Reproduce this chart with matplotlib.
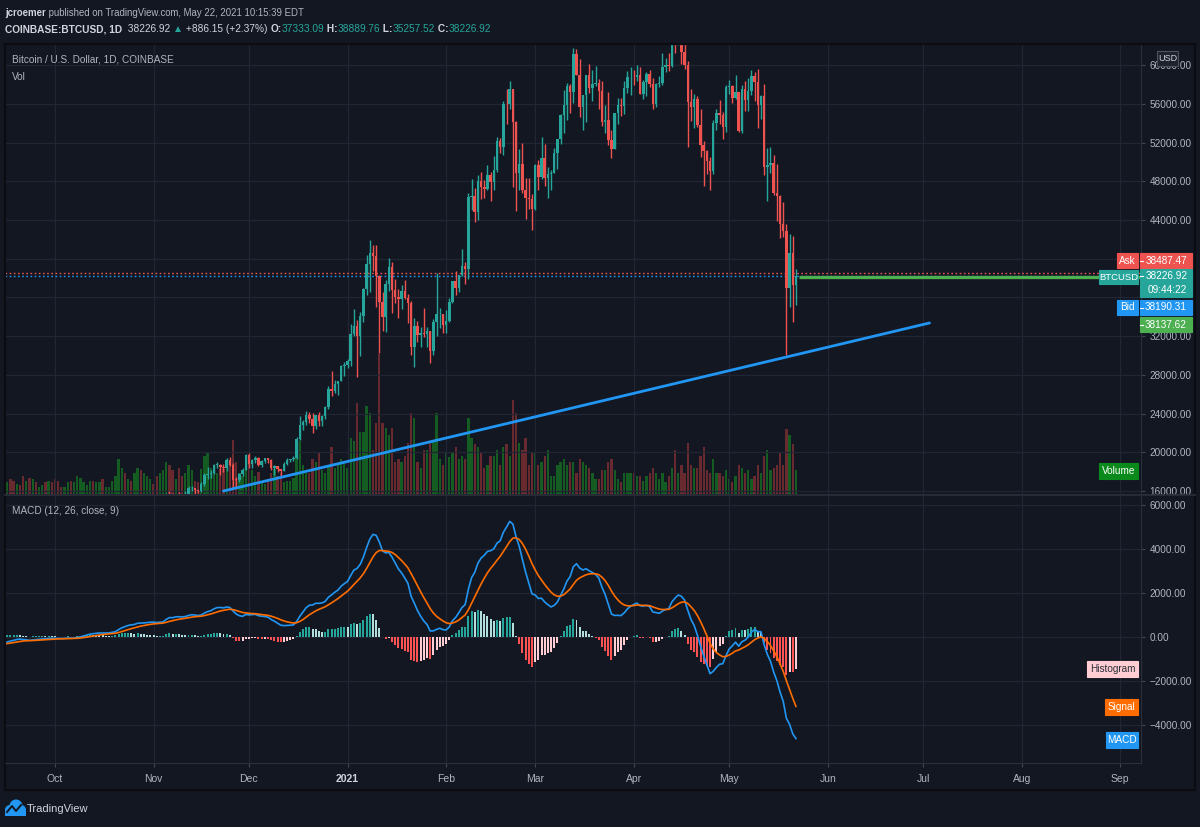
import numpy as np
import pandas as pd
import matplotlib
matplotlib.use('Agg')
import matplotlib.pyplot as plt
import matplotlib.dates as mdates
from matplotlib.patches import Rectangle, Circle
from matplotlib import font_manager as fm

# pick a narrow font if one is there (TradingView text is narrow)
_names = {f.name for f in fm.fontManager.ttflist}
FONT = next((n for n in ['Liberation Sans Narrow', 'DejaVu Sans Condensed', 'Liberation Sans']
             if n in _names), 'DejaVu Sans')
plt.rcParams['font.family'] = [FONT, 'DejaVu Sans']

# ---- data: COINBASE:BTCUSD daily, closes from 2020-08-01 to 2021-05-22 ----
close = [
    # Aug 2020
    11800, 11070, 11230, 11190, 11740, 11770, 11600, 11750, 11680, 11880, 11400, 11580, 11780, 11770, 11860, 11910,
    12290, 11960, 11750, 11860, 11520, 11680, 11650, 11760, 11340, 11470, 11320, 11540, 11480, 11710, 11650,
    # Sep
    11920, 11400, 10170, 10470, 10170, 10250, 10370, 10130, 10230, 10340, 10390, 10440, 10330, 10680, 10790,
    10950, 10940, 10930, 11080, 10920, 10420, 10540, 10240, 10740, 10690, 10730, 10780, 10700, 10840, 10780,
    # Oct
    10620, 10570, 10550, 10670, 10790, 10600, 10670, 10920, 11060, 11300, 11380, 11540, 11430, 11430, 11500, 11330,
    11370, 11510, 11750, 11920, 12820, 12990, 12940, 13130, 13030, 13070, 13650, 13280, 13460, 13560, 13800,
    # Nov
    13760, 13560, 14030, 14160, 15590, 15580, 14840, 15480, 15330, 15310, 15700, 16290, 16330, 16070, 15960,
    16720, 17660, 17800, 17820, 18680, 18710, 18430, 18370, 19160, 18730, 17160, 17140, 17720, 18180, 19700,
    # Dec
    18790, 19230, 19450, 18700, 19150, 19360, 19170, 18330, 18550, 18260, 18040, 18810, 19170, 19270, 19440, 21370,
    22840, 23130, 23860, 23480, 22740, 23830, 23240, 23730, 24700, 26490, 26280, 27040, 27370, 28890, 28980,
    # Jan 2021
    29400, 32200, 33000, 32030, 34030, 36820, 39450, 40600, 40250, 38240, 35550, 34000, 37400, 39150, 36770, 36020,
    35800, 36630, 35920, 35470, 30850, 33010, 32090, 32280, 32260, 32510, 30430, 33470, 34260, 34290, 33110,
    # Feb
    33520, 35520, 37660, 36950, 38290, 39260, 38900, 46400, 46510, 44840, 47990, 47390, 47180, 48600,
    47940, 49200, 52150, 51580, 55960, 55930, 57490, 54110, 48880, 49740, 47060, 46320, 46190, 45140,
    # Mar
    49630, 48440, 50370, 48380, 48760, 48880, 50970, 52390, 54880, 55850, 57800, 57230, 61190, 59000, 55640, 56930,
    58930, 57640, 58030, 58100, 57350, 54100, 54340, 52300, 51300, 55040, 55870, 55780, 57630, 58760, 58800,
    # Apr
    58740, 58970, 57060, 58210, 59130, 58020, 56000, 58090, 58120, 59770, 59980, 59860, 63580, 62960, 63200,
    61390, 60030, 56220, 55720, 56470, 53820, 51700, 51140, 50100, 49080, 54040, 55030, 54840, 53560, 57720,
    # May
    57830, 56620, 57200, 53240, 57510, 56400, 57360, 58900, 58240, 55840, 56760, 49500, 49690, 49930, 46760,
    46450, 43540, 42900, 36990, 40620, 37333.09, 38226.92,
]

# highs / lows for the candles that reach the visible price range (2020-11-05 .. 2021-05-22)
high = [
    15750, 15970, 15770, 15650, 15850, 15480, 15970, 16480, 16480, 16330, 16140, 16880, 17850, 18480, 18130,
    18810, 18960, 18750, 18770, 19420, 19490, 18920, 17460, 17880, 18350, 19870,
    19920, 19340, 19580, 19510, 19180, 19420, 19420, 19290, 18640, 18570, 18290, 18950, 19400, 19350, 19570, 21560,
    23770, 23290, 24300, 24170, 24100, 23860, 24150, 23800, 24800, 26870, 28420, 27500, 27410, 29020, 29300,
    29680, 33300, 34800, 33660, 34500, 36950, 40400, 41950, 41400, 41400, 38270, 36600, 37850, 40100, 39700, 37900,
    36850, 37300, 37850, 36400, 35600, 33850, 33600, 32970, 34880, 32930, 32570, 33780, 38500, 34880, 34330,
    34700, 35900, 37700, 38700, 38300, 40950, 39700, 46800, 48200, 47350, 48680, 48980, 48150, 49700,
    49000, 50600, 52620, 52500, 56300, 57500, 58350, 57530, 54200, 51350, 52000, 48370, 48380, 46640,
    49790, 50200, 52600, 51800, 49500, 49200, 51450, 52400, 54900, 57390, 58100, 58000, 61800, 61700, 60600, 56950,
    58980, 60100, 59450, 59900, 58600, 58400, 55850, 57200, 53250, 55100, 56600, 56550, 58400, 59400, 59800,
    59480, 60050, 59800, 58500, 59250, 59500, 58650, 58200, 58900, 61300, 60700, 61250, 63800, 64900, 63850,
    63600, 62600, 60400, 57550, 57000, 56800, 55500, 52150, 51200, 50550, 54350, 55500, 56400, 55200, 57950,
    58450, 57980, 58970, 57200, 57950, 58360, 58650, 59500, 59250, 59600, 56880, 58000, 51400, 51550, 50700,
    49800, 46600, 45850, 43600, 42600, 42300, 38889.76,
]
low = [
    14100, 15200, 14350, 14700, 14810, 15100, 15280, 15430, 15970, 15710, 15800, 15870, 16550, 17220, 17350,
    17740, 18360, 17620, 18000, 18040, 18570, 16200, 16460, 16880, 17520, 18170,
    18330, 18360, 18930, 18600, 18520, 18930, 18910, 18200, 17640, 17930, 17570, 18020, 18720, 19000, 19050, 19290,
    21230, 22350, 22800, 23070, 22000, 22380, 22700, 22700, 23440, 24500, 25850, 26100, 25900, 27320, 27850,
    28690, 28950, 32000, 27730, 29950, 33440, 36300, 36600, 38760, 35000, 30300, 32500, 32400, 36700, 34400, 35380,
    33850, 34850, 35800, 33400, 30050, 28800, 31420, 30900, 31920, 30840, 29240, 30000, 31990, 32830, 32300,
    32300, 33450, 35380, 36200, 36600, 38250, 37400, 37950, 45000, 43750, 43980, 46200, 46300, 47050,
    45950, 47050, 48950, 50900, 50750, 53900, 55500, 47400, 44950, 47100, 46750, 44150, 45100, 43000,
    45000, 47100, 48200, 47500, 46300, 47100, 48880, 49300, 51850, 53000, 54300, 55000, 56100, 58980, 54600, 53300,
    54150, 57100, 56300, 57800, 55500, 53700, 53000, 51700, 50400, 51300, 53950, 54700, 54900, 57100, 56900,
    57950, 58400, 57000, 56500, 56800, 57700, 55500, 55700, 57700, 57950, 59300, 59400, 59800, 61300, 62100,
    60100, 59600, 51500, 54200, 53500, 53600, 50500, 47500, 48800, 47100, 48800, 53300, 53900, 52400, 53100,
    57050, 56050, 56500, 53050, 52950, 55250, 55300, 56900, 56300, 53500, 54400, 48600, 46000, 48900, 46600,
    43900, 42100, 42200, 30000, 35000, 33500, 35257.52,
]

# daily volume (thousand BTC), 2020-09-15 .. 2021-05-22
volume = [
    9, 8, 10, 9, 7, 6, 12, 9, 11, 10, 8, 5, 6, 8, 9, 8,
    10, 9, 5, 5, 8, 9, 8, 12, 11, 8, 6, 9, 9, 8, 8, 10, 5, 5, 9, 12, 24, 18, 14, 10, 9, 14, 18, 16, 14, 12, 10,
    7, 12, 14, 16, 22, 20, 16, 10, 18, 12, 14, 20, 16, 9, 8, 17, 26, 28, 18, 16, 14, 17, 17, 24, 22, 37, 22, 14, 12, 20,
    26, 16, 12, 15, 9, 7, 10, 14, 17, 12, 14, 8, 9, 9, 11, 28, 36, 20, 14, 14, 24, 22, 28, 16, 14, 20, 32, 18, 20, 24, 22,
    18, 38, 36, 62, 42, 42, 60, 55, 30, 48, 95, 48, 45, 40, 45, 22, 24, 22, 26, 35, 55, 52, 22, 18, 30, 30, 36, 36, 55, 24, 20,
    28, 25, 28, 32, 24, 26, 24, 52, 38, 34, 32, 28, 18, 20, 26, 26, 30, 20, 32, 34, 26, 64, 55, 35, 30, 38, 20, 28,
    28, 20, 22, 26, 30, 12, 12, 20, 22, 24, 20, 22, 22, 14, 24, 22, 20, 18, 14, 10, 10, 16, 16, 22, 24, 16, 10, 8, 14, 14, 14,
    14, 12, 12, 9, 12, 14, 18, 14, 10, 14, 8, 12, 18, 30, 14, 20, 14, 35, 20, 18, 18, 26, 32, 16, 14, 24, 14, 14, 12, 16,
    10, 8, 12, 20, 18, 14, 16, 10, 12, 20, 14, 26, 30, 16, 18, 20, 28, 20, 44, 40, 34, 16,
]

ask, bid, last_line = 38487.47, 38190.31, 38137.62
trend_dates = ['2020-11-23', '2021-07-03']
trend_prices = [16000, 33360]
month_labels = ['Oct', 'Nov', 'Dec', '2021', 'Feb', 'Mar', 'Apr', 'May', 'Jun', 'Jul', 'Aug', 'Sep']
month_dates = pd.date_range('2020-10-01', periods=12, freq='MS')
hidden_ticks = [36000, 40000]   # price labels hidden under the Ask / Bid tags

# ---- colours ----
BG = '#131722'
GRID = '#222632'
TXT = '#b2b5be'
UP, DN = '#26a69a', '#ef5350'
VUP, VDN = '#145c22', '#692a2f'

dates = pd.date_range('2020-08-01', periods=len(close), freq='D')
x = mdates.date2num(dates)
close = np.array(close, dtype=float)
opens = np.r_[close[0], close[:-1]]

# MACD (12, 26, close, 9)
cs = pd.Series(close)
macd = cs.ewm(span=12, adjust=False).mean() - cs.ewm(span=26, adjust=False).mean()
signal = macd.ewm(span=9, adjust=False).mean()
hist = (macd - signal).values
prev = np.r_[hist[0], hist[:-1]]
hcol = np.where(hist >= 0, np.where(hist > prev, '#26a69a', '#b2dfdb'),
                np.where(hist > prev, '#ffcdd2', '#ff5252'))

W, H = 1200, 827
fig = plt.figure(figsize=(W / 100, H / 100), dpi=100, facecolor=BG)


def rect(x0, y0, x1, y1):
    return [x0 / W, 1 - y1 / H, (x1 - x0) / W, (y1 - y0) / H]


x0ref = mdates.date2num(pd.Timestamp('2020-10-01'))
xl = (x0ref - 15.7, x0ref + 341.5)

# volume axes behind price axes
vax = fig.add_axes(rect(5, 44, 1141, 494), zorder=1)
ax = fig.add_axes(rect(5, 44, 1141, 494), zorder=2)
mx = fig.add_axes(rect(5, 496, 1141, 763), zorder=2)
for a in (ax, mx):
    a.set_facecolor('none')
    for s in a.spines.values():
        s.set_visible(False)
    a.spines['right'].set_visible(True)
    a.spines['right'].set_color('#2a2e39')

vn = len(volume)
vx_ = x[-vn:]
vup = close[-vn:] >= opens[-vn:]
vax.bar(vx_, volume, width=0.72, color=np.where(vup, VUP, VDN), linewidth=0)
vax.set_xlim(*xl)
vax.set_ylim(0, 306)
vax.axis('off')

# candles
n = len(high)
cx, o, c = x[-n:], opens[-n:], close[-n:]
h = np.maximum(np.array(high), np.maximum(o, c))
l = np.minimum(np.array(low), np.minimum(o, c))
ccol = np.where(c >= o, UP, DN)
ax.vlines(cx, l, h, colors=ccol, lw=1, zorder=3)
ax.bar(cx, np.maximum(np.abs(c - o), 60), bottom=np.minimum(o, c), width=0.78,
       color=ccol, linewidth=0, zorder=4)

ax.axhline(ask, color=DN, lw=1, ls=(0, (1.2, 1.8)), zorder=2)
ax.axhline(bid, color='#2196f3', lw=1, ls=(0, (1.2, 1.8)), zorder=2)
ax.hlines(last_line, cx[-1] + 1, xl[1], color='#4caf50', lw=2.4, zorder=5)
ax.plot(mdates.date2num(pd.to_datetime(trend_dates)), trend_prices, color='#2196f3',
        lw=2, solid_capstyle='round', zorder=6)

ax.set_xlim(*xl)
ax.set_ylim(15690, 62180)
ax.set_yticks(np.arange(16000, 62000, 4000))
ax.yaxis.set_major_formatter(matplotlib.ticker.FuncFormatter(
    lambda v, p: '' if round(v) in hidden_ticks else f'{v:.2f}'))
ax.yaxis.tick_right()

# MACD pane
mx.bar(x, hist, width=0.62, color=hcol, linewidth=0, zorder=2)
mx.plot(x, macd, color='#2196f3', lw=1.2, zorder=3)
mx.plot(x, signal, color='#ff6d00', lw=1.2, zorder=3)
mx.set_xlim(*xl)
mx.set_ylim(-5727, 6409)
mx.set_yticks(np.arange(-4000, 6001, 2000))
mx.yaxis.set_major_formatter(matplotlib.ticker.FuncFormatter(
    lambda v, p: f'{v:.2f}'.replace('-', '\u2212')))
mx.yaxis.tick_right()

mt = mdates.date2num(month_dates)
for a in (ax, mx):
    a.set_xticks(mt)
    a.grid(True, color=GRID, lw=0.9)
    a.set_axisbelow(True)
    a.tick_params(axis='y', colors='#434651', labelcolor=TXT, labelsize=7.2, length=3, pad=3)
    a.tick_params(axis='x', colors='#434651', labelcolor=TXT, labelsize=7.5, length=3, pad=5)
ax.tick_params(axis='x', length=0, labelbottom=False)
mx.set_xticklabels(month_labels)
for t in mx.get_xticklabels():
    if t.get_text() == '2021':
        t.set_fontweight('bold')
        t.set_color('#d1d4dc')

# ---- overlay in pixel coordinates for the TradingView furniture ----
ov = fig.add_axes([0, 0, 1, 1], zorder=10)
ov.set_xlim(0, W)
ov.set_ylim(H, 0)
ov.axis('off')

ov.plot([5, 1195], [495, 495], color='#2a2e39', lw=1.3)
ov.plot([5, 1141], [763, 763], color='#2a2e39', lw=0.8)
ov.add_patch(Rectangle((5, 44), 1190, 746, fill=False, ec='#0b0d13', lw=1.6))


def chain(y, parts, x0=5, size=8):
    prev_t = None
    for text, color, weight in parts:
        if prev_t is None:
            prev_t = ov.text(x0, y, text, color=color, fontsize=size, fontweight=weight, va='center')
        else:
            prev_t = ov.annotate(text, xy=(1, 0.5), xycoords=prev_t, va='center', ha='left',
                                 color=color, fontsize=size, fontweight=weight)


W1, G1 = '#d1d4dc', '#b2b5be'
chain(13, [('jcroemer', W1, 'bold'),
           (' published on TradingView.com, May 22, 2021 10:15:39 EDT', G1, 'normal')], size=6.9)
chain(29, [('COINBASE:BTCUSD, 1D', W1, 'bold'), ('  38226.92 ', W1, 'normal'), ('\u25b2', UP, 'normal'),
           (' +886.15 (+2.37%) ', W1, 'normal'), ('O:', W1, 'bold'), ('37333.09', UP, 'normal'),
           (' H:', W1, 'bold'), ('38889.76', UP, 'normal'), (' L:', W1, 'bold'), ('35257.52', UP, 'normal'),
           (' C:', W1, 'bold'), ('38226.92', UP, 'normal')], size=7.3)

ov.text(12, 60, 'Bitcoin / U.S. Dollar, 1D, COINBASE', color=G1, fontsize=7.2, va='center')
ov.text(12, 77, 'Vol', color=G1, fontsize=7.2, va='center')
ov.text(12, 511, 'MACD (12, 26, close, 9)', color=G1, fontsize=7.2, va='center')


def tag(x0, y0, x1, y1, fc, text, tc='white', ec=None, size=7.2):
    ov.add_patch(Rectangle((x0, y0), x1 - x0, y1 - y0, fc=fc, ec=ec or fc, lw=0.8, zorder=3))
    ov.text((x0 + x1) / 2, (y0 + y1) / 2, text, color=tc, fontsize=size, ha='center',
            va='center', zorder=4)


tag(1157, 51, 1178, 66, '#1e222d', 'USD', tc='#d1d4dc', ec='#50535e', size=6.5)
tag(1117, 253, 1138, 268, DN, 'Ask')
tag(1140, 253, 1192, 268, DN, '38487.47')
tag(1099, 270, 1138, 284, UP, 'BTCUSD', size=6.8)
tag(1140, 269, 1192, 297, UP, '')
ov.text(1167, 276, '38226.92', color='white', fontsize=7.2, ha='center', va='center', zorder=4)
ov.text(1167, 290, '09:44:22', color='white', fontsize=7.2, ha='center', va='center', zorder=4)
tag(1117, 300, 1138, 315, '#2196f3', 'Bid')
tag(1140, 300, 1192, 315, '#2196f3', '38190.31')
tag(1140, 317, 1192, 332, '#4caf50', '38137.62')
for yy in (260.5, 276, 307.5, 324.5):
    ov.plot([1140, 1143], [yy, yy], color='white', lw=0.8, zorder=5)
tag(1099, 463, 1138, 479, '#0a8a1a', 'Volume')
tag(1087, 661, 1138, 677, '#ffcdd2', 'Histogram', tc='#2a2e39')
tag(1105, 699, 1138, 715, '#ff6d00', 'Signal')
tag(1106, 732, 1138, 748, '#2196f3', 'MACD')

# TradingView logo
for cxp, cyp, r in [(10, 810, 5), (16, 806, 6.5), (21, 810, 5)]:
    ov.add_patch(Circle((cxp, cyp), r, color='#2196f3', lw=0))
ov.add_patch(Rectangle((5, 810), 21, 5.5, color='#2196f3', lw=0))
ov.plot([7, 12, 16, 21], [812, 806, 811, 805], color=BG, lw=1.4)
ov.text(27, 809, 'TradingView', color='#d1d4dc', fontsize=8, va='center')

fig.savefig('out.png', dpi=100, facecolor=BG)
